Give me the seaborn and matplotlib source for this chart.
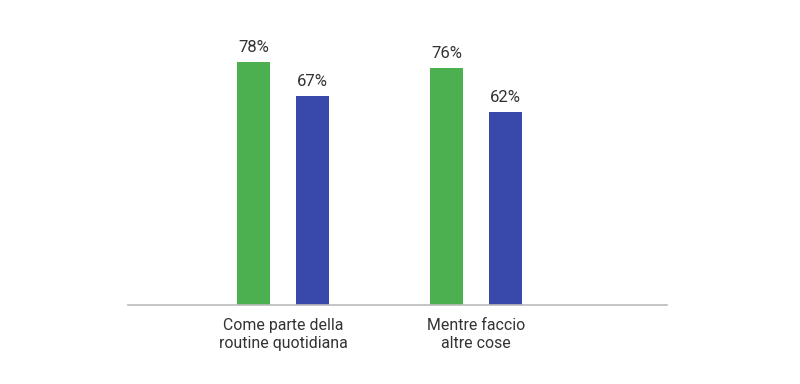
import matplotlib
matplotlib.use("Agg")
import matplotlib.pyplot as plt
import seaborn as sns
import pandas as pd

# data
categories = ["Come parte della\nroutine quotidiana", "Mentre faccio\naltre cose"]
series_names = ["Serie A", "Serie B"]
values_a = [78, 76]
values_b = [67, 62]
palette = ["#4CAF50", "#3949AB"]

df = pd.DataFrame({
    "categoria": categories * 2,
    "serie": [series_names[0]] * 2 + [series_names[1]] * 2,
    "valore": values_a + values_b,
})

sns.set_style("white")
plt.rcParams["font.family"] = ["Roboto", "DejaVu Sans"]

fig = plt.figure(figsize=(8, 3.84), dpi=100)
ax = fig.add_axes([0.16, 0.207, 0.674, 0.7287])

sns.barplot(data=df, x="categoria", y="valore", hue="serie",
            palette=palette, width=0.612, gap=0.43, saturation=1,
            linewidth=0, legend=False, ax=ax)

for cont in ax.containers:
    ax.bar_label(cont, labels=[f"{v:.0f}%" for v in cont.datavalues],
                 padding=5, fontsize=12, color="#333333")

ax.set_xlim(-0.803, 1.99)
ax.set_ylim(0, 90)
ax.set_xlabel("")
ax.set_ylabel("")
ax.set_yticks([])
ax.tick_params(axis="x", length=0, pad=10, labelsize=11.4, labelcolor="#333333")
for lbl in ax.get_xticklabels():
    lbl.set_linespacing(1.25)
for s in ["top", "right", "left"]:
    ax.spines[s].set_visible(False)
ax.spines["bottom"].set_color("#BBBBBB")
ax.spines["bottom"].set_linewidth(1.2)

fig.savefig("out.png", dpi=100)
